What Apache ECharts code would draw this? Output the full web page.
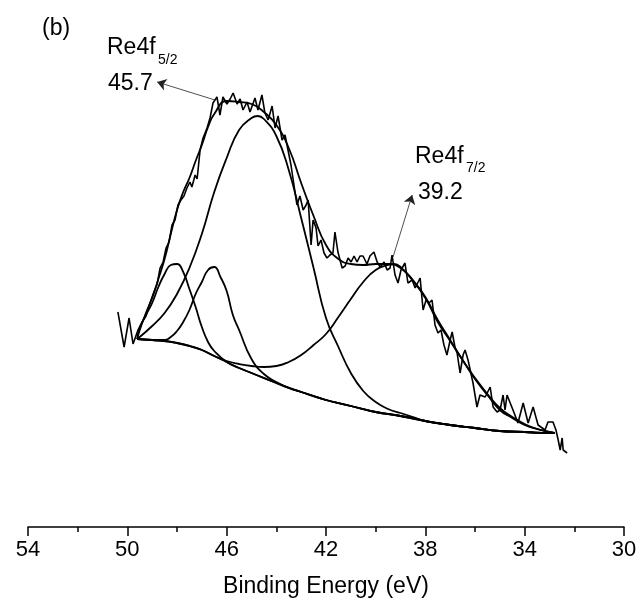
<!DOCTYPE html>
<html><head><meta charset="utf-8">
<script src="https://cdn.jsdelivr.net/npm/echarts@6/dist/echarts.min.js"></script>
<style>html,body{margin:0;padding:0;background:#fff;}#c{width:640px;height:613px;}</style>
</head><body><div id="c"></div>
<script>
// x ticks
const xTicks = [54, 50, 46, 42, 38, 34, 30];
// Raw spectrum (binding energy eV, intensity a.u.)
const rawE = [50.38,50.13,49.93,49.77,49.57,49.41,49.25,49.09,48.93,48.80,48.68,48.56,48.44,48.32,48.20,48.08,47.96,47.84,47.72,47.60,47.48,47.40,47.27,47.19,47.07,46.95,46.79,46.67,46.55,46.39,46.27,46.15,45.99,45.86,45.74,45.58,45.46,45.34,45.18,45.06,44.86,44.74,44.58,44.46,44.33,44.17,44.05,43.93,43.77,43.65,43.53,43.41,43.29,43.17,43.05,42.92,42.80,42.72,42.60,42.52,42.40,42.32,42.20,42.08,41.96,41.84,41.72,41.64,41.52,41.35,41.23,41.11,40.99,40.87,40.75,40.63,40.51,40.35,40.23,40.07,39.94,39.82,39.66,39.54,39.42,39.34,39.22,39.10,38.98,38.82,38.70,38.53,38.41,38.29,38.21,38.09,37.97,37.85,37.73,37.61,37.49,37.37,37.25,37.13,37.00,36.92,36.80,36.72,36.60,36.48,36.40,36.28,36.20,36.08,36.00,35.92,35.80,35.59,35.39,35.27,35.11,34.99,34.87,34.79,34.71,34.47,34.27,34.06,33.86,33.66,33.46,33.18,33.06,32.86,32.74,32.65,32.57,32.49,32.45,32.29];
const rawI = [215,180,209,183,197,205,211,224,235,243,259,265,279,285,302,307,322,327,331,339,345,340,352,348,377,389,399,409,424,430,412,430,423,428,434,423,428,417,425,415,429,417,432,414,407,421,399,411,387,392,377,362,342,322,331,317,322,327,282,307,299,281,287,274,269,272,274,295,275,259,261,269,265,271,265,271,271,263,271,275,265,260,265,257,259,272,252,244,257,264,244,247,239,245,249,217,227,224,227,202,194,197,182,172,187,195,179,174,154,172,177,167,169,144,132,120,132,130,140,120,115,117,132,117,132,117,104,124,104,120,102,97,105,105,97,87,77,89,77,74];
// Shirley background
const bgE = [49.6,49,48.5,48,47.5,47,46.5,46,45.5,45,44.5,44,43.5,43,42.5,42,41.5,41,40.5,40,39.5,39,38.5,38,37.5,37,36,35,34,33,32.8];
const bgI = [188,187,186,184,181,177,171,165,159,154,149,144,139,135,131,127,124,121,118,115,113,111,109,106,104,102,99,96,95,94,94];
// Component 1 (main peak ~44.8 eV)
const p1E = [49.6,49,48.5,48,47.5,47,46.5,46,45.5,45,44.75,44.5,44,43.5,43,42.5,42,41.5,41,40.5,40,39.5,39,38.5,38,37,36,35,34,33,32.8];
const p1I = [188,201,214,233,259,293,335,369,397,409,411,408,391,357,309,259,209,180,154,136,125,118,114,110,106,102,99,96,95,94,94];
// Component 2 (~48.1 eV)
const p2E = [49.6,49.5,49.25,49,48.75,48.5,48.25,48,47.75,47.5,47.25,47,46.75,46.5,46,45.5,45,44,43,42,41,40,39,38,37,36,35,34,33,32.8];
const p2I = [188,199,212,224,240,253,262,263,255,238,220,200,185,176,165,159,154,144,135,127,121,115,111,106,102,99,96,95,94,94];
// Component 3 (~46.6 eV)
const p3E = [49.6,49,48.5,48.25,48,47.75,47.5,47.25,47,46.75,46.5,46.25,46,45.75,45.5,45,44.5,44,43.5,43,42,41,40,39,38,37,36,35,34,33,32.8];
const p3I = [188,187,187,190,196,205,217,233,245,257,260,250,236,212,197,168,153,145,139,135,127,121,115,111,106,102,99,96,95,94,94];
// Component 4 (~39.3 eV)
const p4E = [49.6,49,48,47,46.5,46,45.5,45,44.5,44,43.5,43,42.5,42,41.5,41,40.5,40,39.5,39.25,39,38.5,38,37.5,37,36.5,36,35.5,35,34.5,34,33.5,33,32.8];
const p4I = [188,187,184,177,171,166,163,161,160,161,165,172,182,193,210,228,245,257,262,263,260,246,229,205,186,167,148,132,117,109,102,98,95,94];
// Fit envelope
const envE = [49.6,49.5,49.25,49,48.75,48.5,48.25,48,47.75,47.5,47.25,47,46.75,46.5,46,45.5,45,44.5,44,43.5,43,42.5,42,41.5,41,40.5,40,39.5,39,38.5,38,37.5,37,36.5,36,35.5,35,34.5,34,33.5,33,32.8];
const envI = [188,197,214,229,248,268,293,317,335,349,366,382,400,413,426,425,423,415,402,379,344,311,282,268,263,262,263,263,259,247,230,207,187,167,149,133,119,110,103,98,95,94];
// Annotation arrows (eV, intensity)
const arrow1 = [[46.47, 427], [48.8, 445]];
const arrow2 = [[39.3, 270], [38.53, 332]];

const zip = (a, b) => a.map((x, i) => [x, b[i]]);
const FONT = '"Liberation Sans", Arial, sans-serif';
const fitLine = (name, e, v, w) => ({
  name, type: 'line', data: zip(e, v), smooth: 0.5, showSymbol: false, silent: true,
  lineStyle: { color: '#000', width: w || 1.8 }, z: 2
});

const chart = echarts.init(document.getElementById('c'));
chart.setOption({
  animation: false,
  backgroundColor: '#fff',
  grid: { left: 28, right: 16, top: 27, bottom: 86 },
  xAxis: {
    type: 'value', min: 30, max: 54, interval: 4, inverse: true,
    name: 'Binding Energy (eV)', nameLocation: 'middle', nameGap: 48,
    nameTextStyle: { fontSize: 23, color: '#000', fontFamily: FONT },
    axisLine: { show: true, lineStyle: { color: '#000', width: 1.5 } },
    axisTick: { show: true, inside: false, length: 9, lineStyle: { color: '#000', width: 1.5 } },
    minorTick: { show: true, splitNumber: 2, length: 5, lineStyle: { color: '#000', width: 1.5 } },
    axisLabel: { fontSize: 22, color: '#000', fontFamily: FONT, margin: 12,
      formatter: v => xTicks.includes(v) ? String(v) : '' },
    splitLine: { show: false }
  },
  yAxis: { type: 'value', min: 0, max: 500, show: false },
  series: [
    fitLine('Background', bgE, bgI),
    fitLine('Peak 1', p1E, p1I),
    fitLine('Peak 2', p2E, p2I),
    fitLine('Peak 3', p3E, p3I),
    fitLine('Peak 4', p4E, p4I),
    Object.assign(fitLine('Envelope', envE, envI), {
      markLine: {
        silent: true, symbol: ['none', 'arrow'], symbolSize: 9,
        lineStyle: { color: '#222', width: 0.8, type: 'solid' },
        label: { show: false },
        data: [
          [{ coord: arrow1[0] }, { coord: arrow1[1] }],
          [{ coord: arrow2[0] }, { coord: arrow2[1] }]
        ]
      }
    }),
    {
      name: 'Raw', type: 'line', data: zip(rawE, rawI), showSymbol: false, silent: true,
      lineStyle: { color: '#000', width: 1.6 }, z: 3
    }
  ],
  graphic: [
    { type: 'text', left: 42, top: 17, style: { text: '(b)', font: '23px ' + FONT, fill: '#000' } },
    { type: 'text', left: 107, top: 36, style: { text: 'Re4f', font: '23px ' + FONT, fill: '#000' } },
    { type: 'text', left: 158, top: 53, style: { text: '5/2', font: '14px ' + FONT, fill: '#000' } },
    { type: 'text', left: 108, top: 72, style: { text: '45.7', font: '23px ' + FONT, fill: '#000' } },
    { type: 'text', left: 415, top: 145, style: { text: 'Re4f', font: '23px ' + FONT, fill: '#000' } },
    { type: 'text', left: 466, top: 161, style: { text: '7/2', font: '14px ' + FONT, fill: '#000' } },
    { type: 'text', left: 418, top: 181, style: { text: '39.2', font: '23px ' + FONT, fill: '#000' } }
  ]
});
</script></body></html>
